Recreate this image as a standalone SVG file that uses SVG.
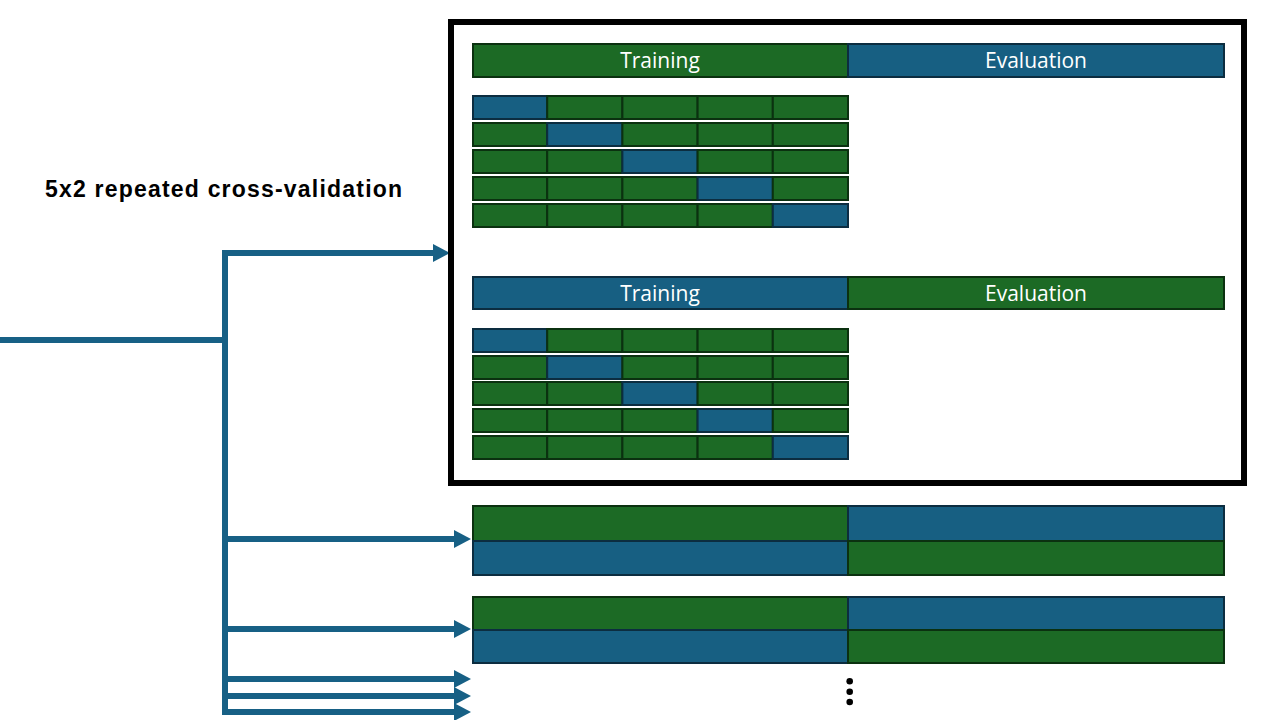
<svg xmlns="http://www.w3.org/2000/svg" width="1280" height="720" viewBox="0 0 1280 720">
<style>
.g{fill:#1C6A25;stroke:#0B3110;stroke-width:2}
.b{fill:#175F82;stroke:#0C2D40;stroke-width:2}
.lbl{font-family:"Open Sans","Liberation Sans",sans-serif;font-size:21px;fill:#ffffff;text-anchor:middle}
.title{font-family:"Liberation Sans",Arial,sans-serif;font-size:23px;font-weight:bold;letter-spacing:1.2px;fill:#000000}
.con{fill:none;stroke:#176085;stroke-width:6}
</style>
<defs>
<marker id="ah" markerUnits="userSpaceOnUse" markerWidth="17" markerHeight="18" refX="7" refY="9" orient="auto">
<path d="M0,0 L17,9 L0,18 z" fill="#176085"/>
</marker>
</defs>
<rect width="1280" height="720" fill="#ffffff"/>
<text id="title" class="title" x="45" y="197">5x2 repeated cross-validation</text>

<g id="connectors">
<path class="con" d="M0,340 H225"/>
<path class="con" d="M225,250 V715"/>
<path class="con" d="M222,253 H440" marker-end="url(#ah)"/>
<path class="con" d="M222,539 H461" marker-end="url(#ah)"/>
<path class="con" d="M222,629 H461" marker-end="url(#ah)"/>
<path class="con" d="M222,679 H461" marker-end="url(#ah)"/>
<path class="con" d="M222,696 H461" marker-end="url(#ah)"/>
<path class="con" d="M222,712 H461" marker-end="url(#ah)"/>
</g>

<g id="frame">
<rect x="451" y="22" width="793" height="461" fill="none" stroke="#000000" stroke-width="6"/>
</g>

<g id="split1">
<rect class="g" x="473" y="44" width="375" height="33"/>
<rect class="b" x="848" y="44" width="376" height="33"/>
<text class="lbl" x="660" y="68">Training</text>
<text class="lbl" x="1036" y="68">Evaluation</text>
</g>

<g id="folds1">
<rect class="b" x="473" y="96" width="74.2" height="23"/>
<rect class="g" x="547.2" y="96" width="75.2" height="23"/>
<rect class="g" x="622.4" y="96" width="75.2" height="23"/>
<rect class="g" x="697.6" y="96" width="75.2" height="23"/>
<rect class="g" x="772.8" y="96" width="75.2" height="23"/>

<rect class="g" x="473" y="123" width="74.2" height="23"/>
<rect class="b" x="547.2" y="123" width="75.2" height="23"/>
<rect class="g" x="622.4" y="123" width="75.2" height="23"/>
<rect class="g" x="697.6" y="123" width="75.2" height="23"/>
<rect class="g" x="772.8" y="123" width="75.2" height="23"/>

<rect class="g" x="473" y="150" width="74.2" height="23"/>
<rect class="g" x="547.2" y="150" width="75.2" height="23"/>
<rect class="b" x="622.4" y="150" width="75.2" height="23"/>
<rect class="g" x="697.6" y="150" width="75.2" height="23"/>
<rect class="g" x="772.8" y="150" width="75.2" height="23"/>

<rect class="g" x="473" y="177" width="74.2" height="23"/>
<rect class="g" x="547.2" y="177" width="75.2" height="23"/>
<rect class="g" x="622.4" y="177" width="75.2" height="23"/>
<rect class="b" x="697.6" y="177" width="75.2" height="23"/>
<rect class="g" x="772.8" y="177" width="75.2" height="23"/>

<rect class="g" x="473" y="204" width="74.2" height="23"/>
<rect class="g" x="547.2" y="204" width="75.2" height="23"/>
<rect class="g" x="622.4" y="204" width="75.2" height="23"/>
<rect class="g" x="697.6" y="204" width="75.2" height="23"/>
<rect class="b" x="772.8" y="204" width="75.2" height="23"/>
</g>

<g id="split2">
<rect class="b" x="473" y="277" width="375" height="32"/>
<rect class="g" x="848" y="277" width="376" height="32"/>
<text class="lbl" x="660" y="301">Training</text>
<text class="lbl" x="1036" y="301">Evaluation</text>
</g>

<g id="folds2">
<rect class="b" x="473" y="329" width="74.2" height="23"/>
<rect class="g" x="547.2" y="329" width="75.2" height="23"/>
<rect class="g" x="622.4" y="329" width="75.2" height="23"/>
<rect class="g" x="697.6" y="329" width="75.2" height="23"/>
<rect class="g" x="772.8" y="329" width="75.2" height="23"/>

<rect class="g" x="473" y="356" width="74.2" height="23"/>
<rect class="b" x="547.2" y="356" width="75.2" height="23"/>
<rect class="g" x="622.4" y="356" width="75.2" height="23"/>
<rect class="g" x="697.6" y="356" width="75.2" height="23"/>
<rect class="g" x="772.8" y="356" width="75.2" height="23"/>

<rect class="g" x="473" y="382" width="74.2" height="23"/>
<rect class="g" x="547.2" y="382" width="75.2" height="23"/>
<rect class="b" x="622.4" y="382" width="75.2" height="23"/>
<rect class="g" x="697.6" y="382" width="75.2" height="23"/>
<rect class="g" x="772.8" y="382" width="75.2" height="23"/>

<rect class="g" x="473" y="409" width="74.2" height="23"/>
<rect class="g" x="547.2" y="409" width="75.2" height="23"/>
<rect class="g" x="622.4" y="409" width="75.2" height="23"/>
<rect class="b" x="697.6" y="409" width="75.2" height="23"/>
<rect class="g" x="772.8" y="409" width="75.2" height="23"/>

<rect class="g" x="473" y="436" width="74.2" height="23"/>
<rect class="g" x="547.2" y="436" width="75.2" height="23"/>
<rect class="g" x="622.4" y="436" width="75.2" height="23"/>
<rect class="g" x="697.6" y="436" width="75.2" height="23"/>
<rect class="b" x="772.8" y="436" width="75.2" height="23"/>
</g>

<g id="rep2">
<rect class="g" x="473" y="506" width="375" height="35"/>
<rect class="b" x="848" y="506" width="376" height="35"/>
<rect class="b" x="473" y="541" width="375" height="34"/>
<rect class="g" x="848" y="541" width="376" height="34"/>
</g>

<g id="rep3">
<rect class="g" x="473" y="597" width="375" height="33"/>
<rect class="b" x="848" y="597" width="376" height="33"/>
<rect class="b" x="473" y="630" width="375" height="33"/>
<rect class="g" x="848" y="630" width="376" height="33"/>
</g>

<g id="ellipsis" fill="#000000">
<circle cx="849.7" cy="681.3" r="3.3"/>
<circle cx="849.7" cy="691.7" r="3.3"/>
<circle cx="849.7" cy="702" r="3.3"/>
</g>
</svg>
